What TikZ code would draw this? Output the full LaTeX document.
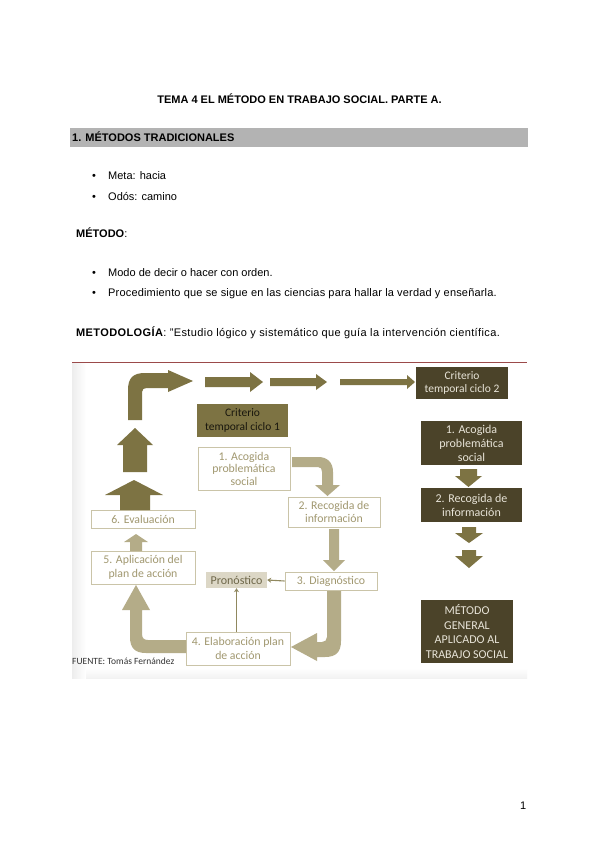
\documentclass[tikz,border=0pt]{standalone}
\usepackage{fontspec}
\setmainfont{Liberation Sans}
\newfontfamily\calfont{Carlito}
\usetikzlibrary{arrows.meta}
\definecolor{olive}{HTML}{7D7343}
\definecolor{beige}{HTML}{B4AC88}
\definecolor{lborder}{HTML}{CAC4A8}
\definecolor{ltext}{HTML}{A19870}
\definecolor{dbox}{HTML}{4B4329}
\definecolor{dtext}{HTML}{E8E4D8}
\definecolor{pronfill}{HTML}{DCD7C6}
\definecolor{prontext}{HTML}{6E6749}
\definecolor{barcol}{HTML}{B3B3B3}
\definecolor{redline}{HTML}{9B4A4A}
\tikzset{
  body/.style={anchor=base west, inner sep=0pt, font=\fontsize{11}{13}\selectfont},
  lightbox/.style={draw=lborder, line width=0.9pt, fill=white, text=ltext, align=center, inner sep=0pt, font=\calfont\fontsize{11.8}{12.5}\selectfont},
  darkbox/.style={fill=dbox, text=dtext, align=center, inner sep=0pt, font=\calfont\fontsize{12}{14}\selectfont},
  thinarrow/.style={draw=olive!85, line width=1.1pt, -{Stealth[length=4pt,width=5pt]}}
}
\begin{document}
\begin{tikzpicture}[x=1pt,y=-1pt]
\useasboundingbox (0,0) rectangle (599,848);
\fill[white] (0,0) rectangle (599,848);

% ---------- text part ----------
\node[body, anchor=base, font=\bfseries\fontsize{11}{13}\selectfont] (title) at (299.5,104) {TEMA 4 EL MÉTODO EN TRABAJO SOCIAL. PARTE A.};
\fill[barcol] (70,128) rectangle (528,147);
\node[body, font=\bfseries\fontsize{11}{13}\selectfont] (sec) at (72,141) {1. MÉTODOS TRADICIONALES};
\node[body] (b1d) at (92,179) {\textbullet};
\node[body] (meta) at (108,179) {Meta: hacia};
\node[body] (b2d) at (92,200) {\textbullet};
\node[body] (odos) at (108,200) {Odós: camino};
\node[body] (metodo) at (76,237) {\textbf{MÉTODO}:};
\node[body] (b3d) at (92,276) {\textbullet};
\node[body] (modo) at (108,276) {Modo de decir o hacer con orden.};
\node[body] (b4d) at (92,296) {\textbullet};
\node[body] (proc) at (108,296) {\addfontfeature{LetterSpace=1.6}Procedimiento que se sigue en las ciencias para hallar la verdad y enseñarla.};
\node[body] (metlog) at (76,336) {\addfontfeature{LetterSpace=3.5}\textbf{METODOLOGÍA}: "Estudio lógico y sistemático que guía la intervención científica.};
\node[body] (page) at (520,809) {1};

% ---------- figure background ----------
\shade[left color=black!7, right color=white] (72,363) rectangle (86,678);
\shade[top color=white, bottom color=black!5] (86,668) rectangle (527,678);
\draw[redline, line width=0.8pt] (72,362) -- (527,362);

% ---------- top arrows ----------
\fill[olive] (128,420) -- (128,390) .. controls (128,378) and (133,373) .. (145,373) -- (168,373) -- (168,370) -- (193,381) -- (168,392) -- (168,388) -- (147,388) .. controls (144,388) and (142,389) .. (142,392) -- (142,420) -- cycle;
\fill[olive] (205,377) -- (250,377) -- (250,372) -- (263,382) -- (250,392) -- (250,387) -- (205,387) -- cycle;
\fill[olive] (270,378) -- (316,378) -- (316,374) -- (327,382) -- (316,390) -- (316,386) -- (270,386) -- cycle;
\fill[olive] (340,379) -- (407,379) -- (407,375) -- (415,382) -- (407,389) -- (407,385) -- (340,385) -- cycle;

% ---------- right column ----------
\node[darkbox, minimum width=92pt, minimum height=32pt, font=\calfont\fontsize{11.5}{13.5}\selectfont] (crit2) at (462,383) {Criterio\\temporal ciclo 2};
\node[darkbox, minimum width=101pt, minimum height=44pt] (r1) at (471.5,443) {1. Acogida\\problemática\\social};
\node[darkbox, minimum width=101pt, minimum height=34pt] (r2) at (471.5,505) {2. Recogida de\\información};
\node[darkbox, minimum width=92pt, minimum height=63pt, font=\calfont\fontsize{12}{14.5}\selectfont] (met) at (467,631.5) {MÉTODO\\GENERAL\\APLICADO AL\\TRABAJO SOCIAL};
\fill[olive] (460,469) -- (477,469) -- (477,476) -- (482,476) -- (468.5,487) -- (455,476) -- (460,476) -- cycle;
\fill[olive] (462,527) -- (476,527) -- (476,533) -- (483,533) -- (469,543) -- (455,533) -- (462,533) -- cycle;
\fill[olive] (462,550) -- (476,550) -- (476,556) -- (483,556) -- (469,568) -- (455,556) -- (462,556) -- cycle;

% ---------- cycle 1 ----------
\node[fill=olive, text=black!80!olive, align=center, inner sep=0pt, minimum width=91pt, minimum height=33pt, font=\calfont\fontsize{11.5}{13.5}\selectfont] (crit1) at (242.5,420.5) {Criterio\\temporal ciclo 1};
\node[lightbox, minimum width=92pt, minimum height=43pt] (c1) at (244,468.5) {1. Acogida\\problemática\\social};
\node[lightbox, minimum width=92pt, minimum height=30pt] (c2) at (334,512) {2. Recogida de\\información};
\node[lightbox, minimum width=92pt, minimum height=18pt] (c3) at (331,581) {3. Diagnóstico};
\node[fill=pronfill, text=prontext, inner sep=0pt, minimum width=61pt, minimum height=16pt, font=\calfont\fontsize{12}{13}\selectfont] (pron) at (236.5,580) {Pronóstico};
\node[lightbox, minimum width=104pt, minimum height=33pt, font=\calfont\fontsize{11.8}{13.5}\selectfont] (c4) at (238,648.5) {4. Elaboración plan\\de acción};
\node[lightbox, minimum width=104pt, minimum height=33pt, font=\calfont\fontsize{11.8}{13.5}\selectfont] (c5) at (143,567.5) {5. Aplicación del\\plan de acción};
\node[lightbox, minimum width=104pt, minimum height=18pt] (c6) at (143,519) {6. Evaluación};

% curved arrow 1 -> 2
\fill[beige] (292,457) -- (318,457) .. controls (327,457) and (333,462) .. (333,472) -- (333,485) -- (340,485) -- (327.5,496) -- (315,485) -- (322,485) -- (322,472) .. controls (322,469) and (321,467) .. (318,467) -- (292,467) -- cycle;
% arrow 2 -> 3
\fill[beige] (329,529) -- (339,529) -- (339,560) -- (345,560) -- (334,571) -- (323,560) -- (329,560) -- cycle;
% curved arrow 3 -> 4
\fill[beige] (327,591) -- (341,591) -- (341,641) .. controls (341,652) and (336,657) .. (325,657) -- (317,657) -- (317,661) -- (291,647) -- (317,633) -- (317,642) -- (322,642) .. controls (325,642) and (327,640) .. (327,637) -- cycle;
% curved arrow 4 -> 5
\fill[beige] (186,640) -- (148,640) .. controls (144,640) and (142,638) .. (142,634) -- (142,610) -- (150,610) -- (136,585) -- (122,610) -- (130,610) -- (130,637) .. controls (130,648) and (135,653) .. (146,653) -- (186,653) -- cycle;
% arrow 5 -> 6
\fill[beige] (130,551) -- (142,551) -- (142,542) -- (148,542) -- (136,534) -- (124,542) -- (130,542) -- cycle;
% big up arrows
\fill[olive] (120,510) -- (150,510) -- (150,495) -- (163,495) -- (134,480) -- (105,495) -- (120,495) -- cycle;
\fill[olive] (123,472) -- (147,472) -- (147,445) -- (153,445) -- (135,428) -- (117,445) -- (123,445) -- cycle;

% thin arrows to Pronostico
\draw[thinarrow] (c3.west) -- (pron.east);
\draw[thinarrow] (c4.north -| pron.south) -- (pron.south);

\node[anchor=west, inner sep=0pt, text=black!80, font=\calfont\fontsize{9.5}{11}\selectfont] (fuente) at (72,661) {FUENTE: Tomás Fernández};
\end{tikzpicture}
\end{document}
